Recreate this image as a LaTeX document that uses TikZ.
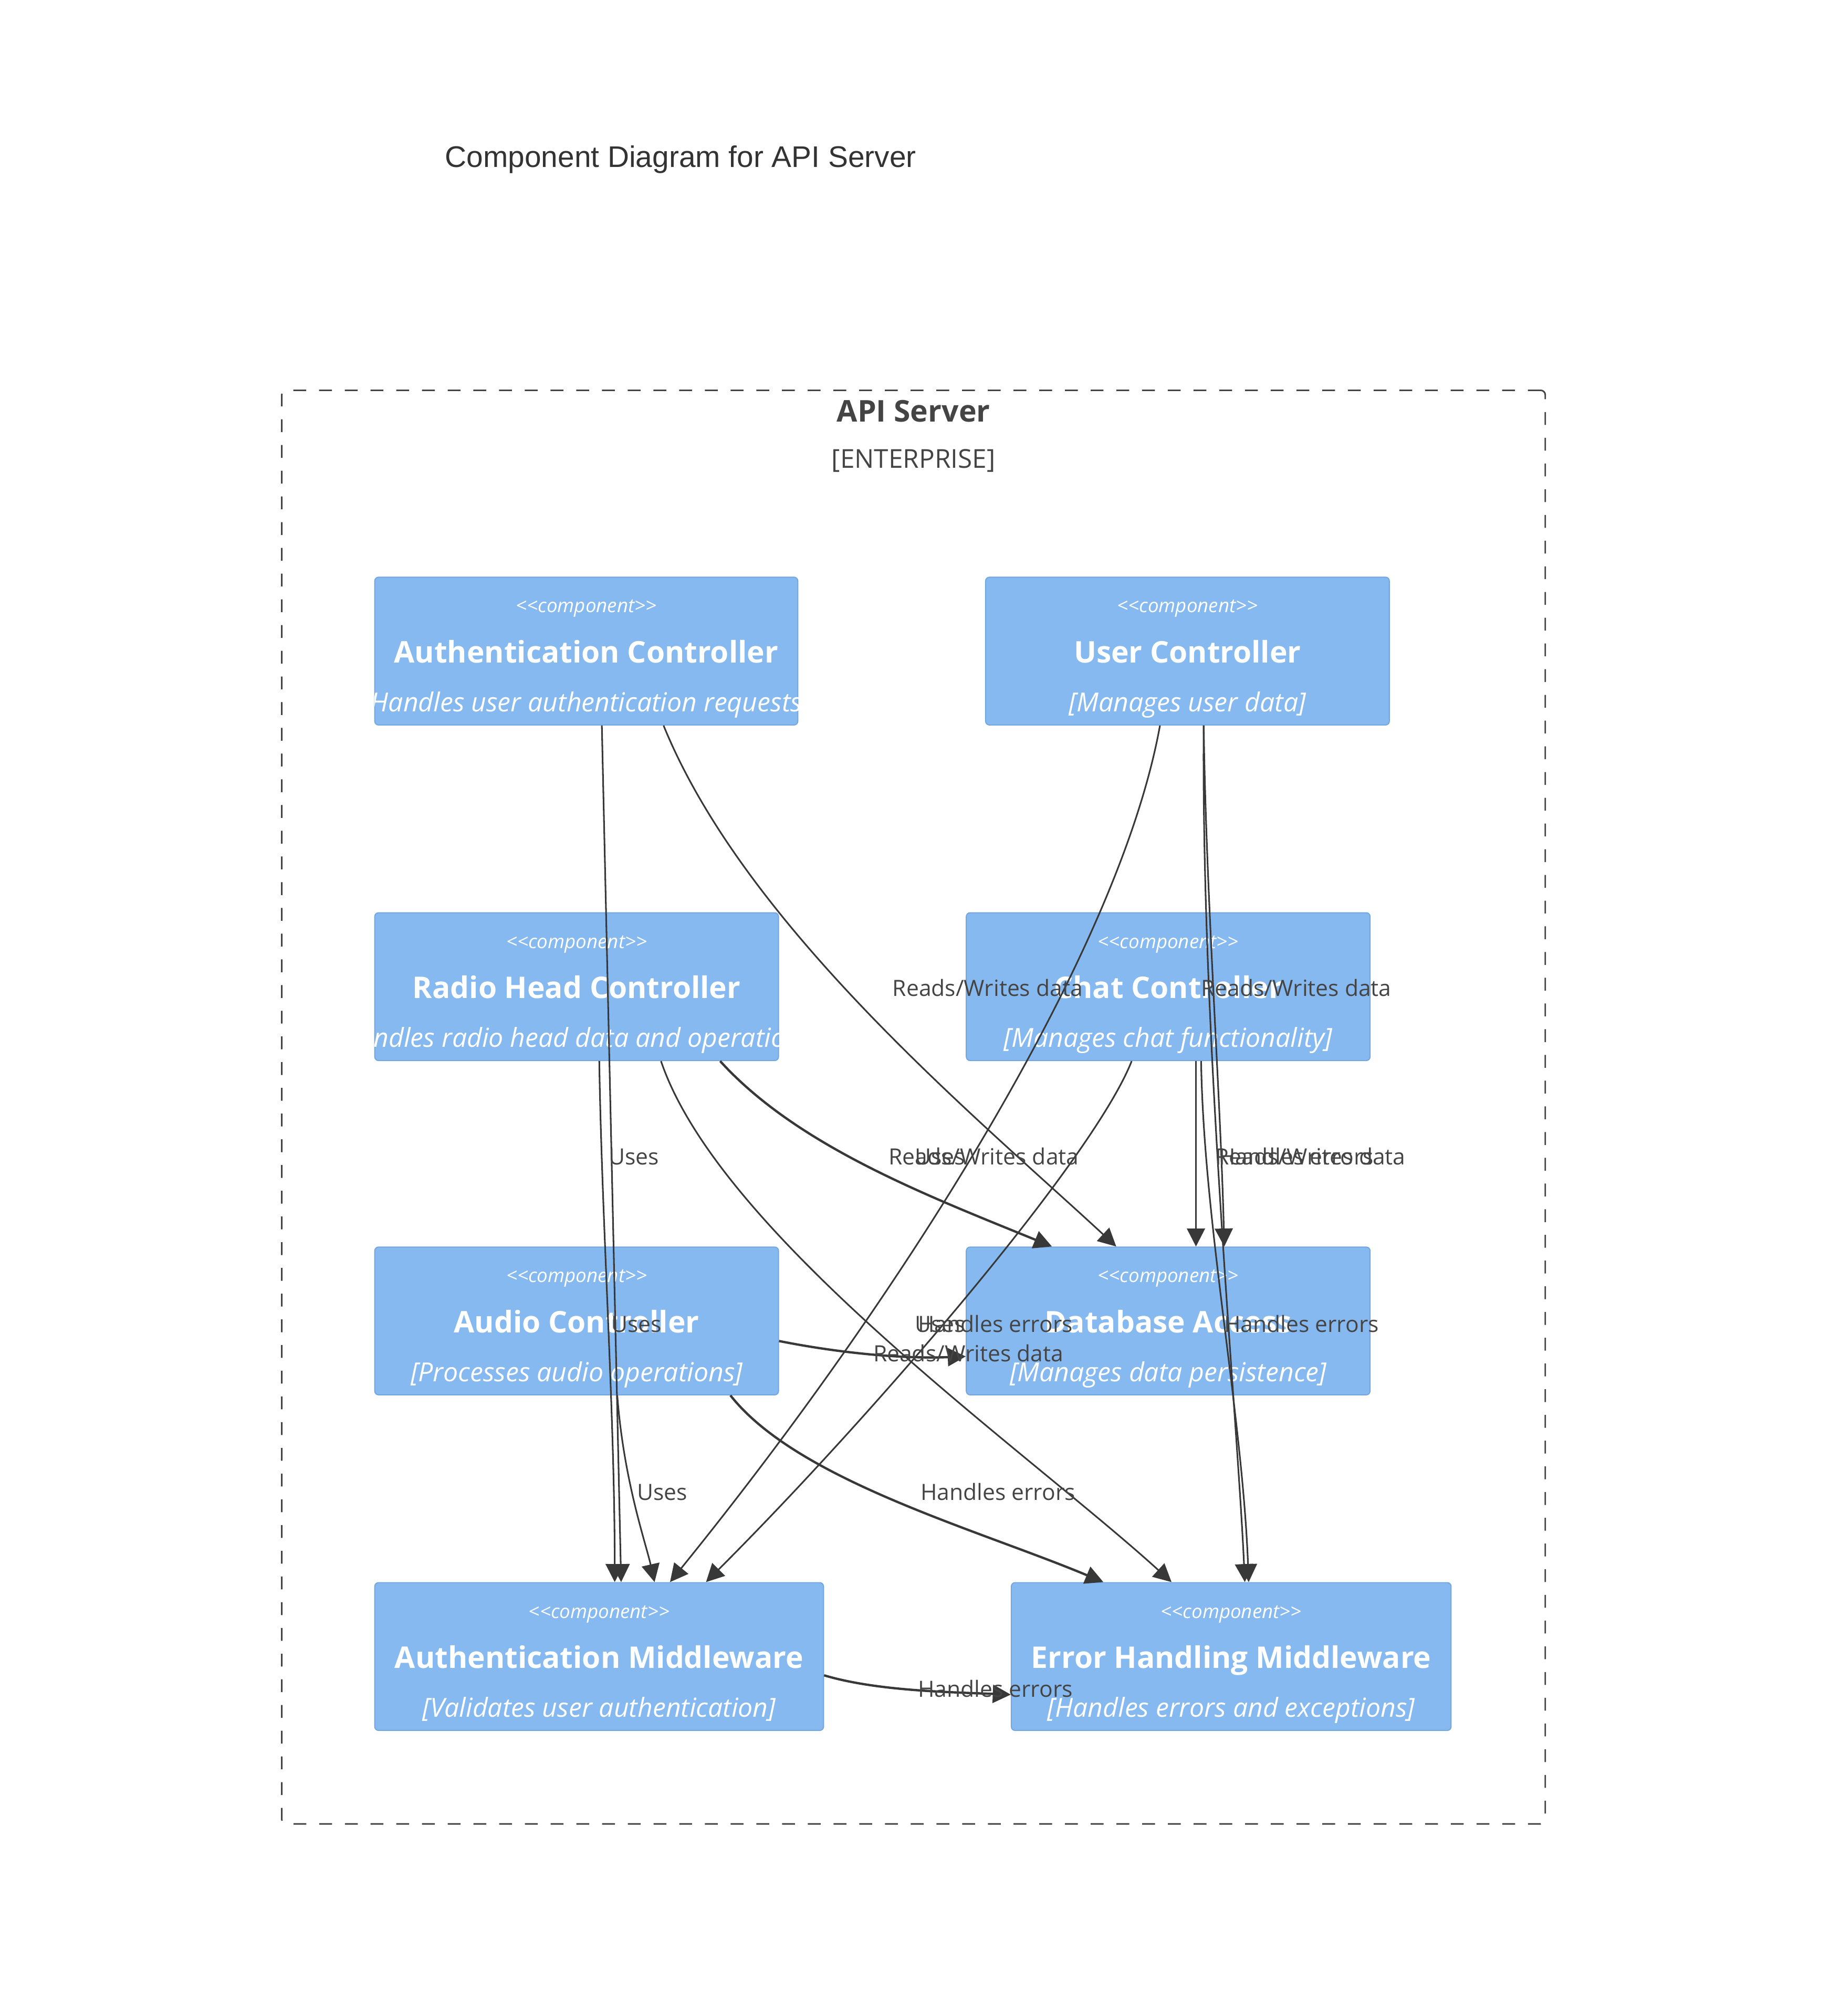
\documentclass[tikz,border=0pt]{standalone}
\usepackage{fontspec}
\setmainfont{Open Sans}
\newfontfamily\titlefont{Liberation Sans}
\usetikzlibrary{arrows.meta,calc}
\definecolor{boxfill}{HTML}{85B9EF}
\definecolor{boxline}{HTML}{72A6DD}
\definecolor{edgec}{HTML}{383838}
\definecolor{labc}{HTML}{444444}
\definecolor{framec}{HTML}{444444}
\newcommand\mkcomp[6]{%
  \node[compbox, minimum width=#4pt] (#1) at (#2,#3) {};
  \begin{scope}
    \clip[rounded corners=3pt] (#1.north west) rectangle (#1.south east);
    \node[stereo] (#1-st) at ($(#1.north)+(0,28)$) {<\kern0pt<component>\kern0pt>};
    \node[cname] (#1-nm) at ($(#1.north)+(0,67)$) {#5};
    \node[cdesc] (#1-ds) at ($(#1.north)+(0,105)$) {[#6]};
  \end{scope}}
\begin{document}
\begin{tikzpicture}[x=1pt,y=-1pt,
  compbox/.style={draw=boxline, fill=boxfill, line width=0.8pt, rounded corners=3pt,
    inner sep=0pt, minimum height=115pt, anchor=north west},
  stereo/.style={text=white, font=\fontsize{15}{17}\selectfont\itshape, inner sep=0pt, anchor=base},
  cname/.style={text=white, font=\fontsize{23.2}{27}\selectfont\bfseries, inner sep=0pt, anchor=base},
  cdesc/.style={text=white, font=\fontsize{20.4}{24}\selectfont\itshape, inner sep=0pt, anchor=base},
  rel/.style={draw=edgec, line width=1.25pt, -{Triangle[length=14pt,width=14pt]}},
  relthick/.style={rel, line width=1.8pt},
  lab/.style={text=labc, font=\fontsize{17.4}{20}\selectfont, inner sep=0pt, anchor=base},
]
\useasboundingbox (0,0) rectangle (1423,1568);

% title
\node[font=\titlefont\fontsize{23.2}{27}\selectfont, text=black!80, anchor=west, inner sep=0pt] (title) at (346,124) {Component Diagram for API Server};

% container
\node[draw=framec, line width=1.2pt, dash pattern=on 10pt off 10pt, rounded corners=3.5pt,
  minimum width=982.5pt, minimum height=1115pt, anchor=north west, inner sep=0pt] (server) at (218.5,303) {};
\node[text=labc, font=\fontsize{23.3}{27}\selectfont\bfseries, anchor=base, inner sep=0pt] (srvname) at ($(server.north)+(0,25)$) {API Server};
\node[text=labc, font=\fontsize{20.2}{24}\selectfont, anchor=base, inner sep=0pt] (srvtype) at ($(server.north)+(0,61)$) {[ENTERPRISE]};

% components
\mkcomp{authc}{291}{448.5}{329}{Authentication Controller}{Handles user authentication requests}
\mkcomp{userc}{766}{448.5}{314}{User Controller}{Manages user data}
\mkcomp{radio}{291}{709.5}{314}{Radio Head Controller}{Handles radio head data and operations}
\mkcomp{chat}{751}{709.5}{314}{Chat Controller}{Manages chat functionality}
\mkcomp{audio}{291}{969.5}{314}{Audio Controller}{Processes audio operations}
\mkcomp{db}{751}{969.5}{314}{Database Access}{Manages data persistence}
\mkcomp{authm}{291}{1230.5}{349}{Authentication Middleware}{Validates user authentication}
\mkcomp{errm}{786}{1230.5}{342}{Error Handling Middleware}{Handles errors and exceptions}

% relations
% Authentication Controller
\draw[rel] ($(authc.south west)+(177,0)$) -- ($(authm.north west)+(192,0)$);
\draw[rel] ($(authc.south west)+(225,0)$) .. controls +(64,157) and +(-108,-100) .. ($(db.north west)+(117,0)$);
% User Controller
\draw[rel] ($(userc.south west)+(136,0)$) .. controls +(-32,177) and +(179,-221) .. ($(authm.north west)+(230,0)$);
\draw[rel] ($(userc.south west)+(170,0)$) .. controls +(2,137) and +(-3,-120) .. ($(db.north west)+(201,0)$);
\draw[rel] ($(userc.south west)+(170,0)$) .. controls +(-2,237) and +(-6,-131) .. ($(errm.north west)+(182,0)$);
% Radio Head Controller
\draw[rel] ($(radio.south west)+(175,0)$) .. controls +(2,126) and +(0,-131) .. ($(authm.north west)+(187,0)$);
\draw[relthick] ($(radio.south west)+(269,0)$) .. controls +(60,66) and +(-98,-40) .. ($(db.north west)+(67,0)$);
\draw[rel] ($(radio.south west)+(223,0)$) .. controls +(46,136) and +(-111,-101) .. ($(errm.north west)+(125,0)$);
% Chat Controller
\draw[rel] ($(chat.south west)+(129,0)$) .. controls +(-30,76) and +(131,-131) .. ($(authm.north west)+(258,0)$);
\draw[rel] ($(chat.south west)+(179,0)$) -- ($(db.north west)+(179,0)$);
\draw[rel] ($(chat.south west)+(183,0)$) .. controls +(2,126) and +(-5,-131) .. ($(errm.north west)+(185,0)$);
% Audio Controller
\draw[rel] ($(audio.south west)+(189,0)$) .. controls +(5,66) and +(-7,-31) .. ($(authm.north west)+(218,0)$);
\draw[relthick] ($(audio.north east)+(0,73.5)$) .. controls +(45,9) and +(-51,2) .. ($(db.north west)+(0,85.5)$);
\draw[relthick] ($(audio.south west)+(277,0)$) .. controls +(52,66) and +(-98,-41) .. ($(errm.north west)+(72,0)$);
% Authentication Middleware
\draw[relthick] ($(authm.north east)+(0,72.5)$) .. controls +(40,12) and +(-50,-2) .. ($(errm.north west)+(0,87.5)$);

% labels
\node[lab] (l1) at (768,775) {Reads/Writes data};
\node[lab] (l2) at (1008,775) {Reads/Writes data};
\node[lab] (l3) at (493,906) {Uses};
\node[lab] (l4) at (765,906) {Reads/Writes data};
\node[lab] (l5) at (731,906) {Uses};
\node[lab] (l6) at (1019,906) {Reads/Writes data};
\node[lab] (l7) at (1008,906) {Handles errors};
\node[lab] (l8) at (495,1036) {Uses};
\node[lab] (l9) at (731,1036) {Uses};
\node[lab] (l10) at (774,1036) {Handles errors};
\node[lab] (l11) at (1012,1036) {Handles errors};
\node[lab] (l12) at (753,1059) {Reads/Writes data};
\node[lab] (l13) at (515,1167) {Uses};
\node[lab] (l14) at (776,1167) {Handles errors};
\node[lab] (l15) at (774,1320) {Handles errors};
\end{tikzpicture}
\end{document}
